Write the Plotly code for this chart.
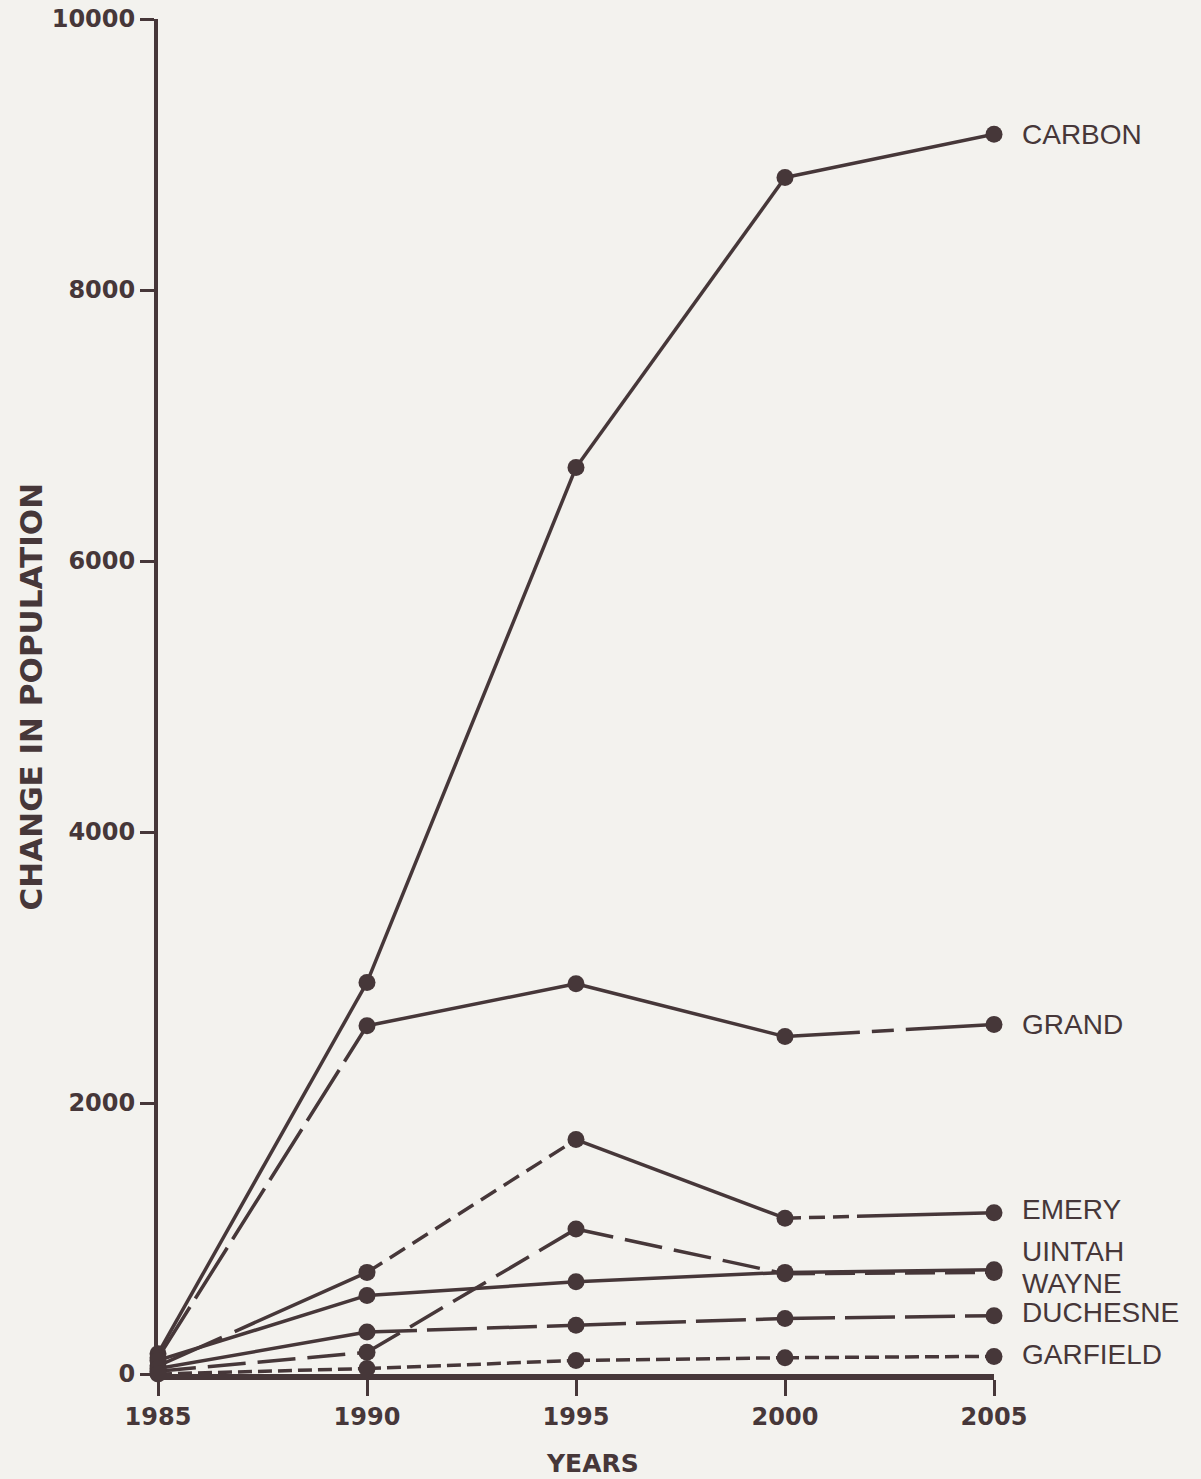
import plotly.graph_objects as go

years = [1985, 1990, 1995, 2000, 2005]

carbon   = [150, 2890, 6690, 8830, 9150]
grand    = [120, 2570, 2880, 2490, 2580]
emery    = [60,  750, 1730, 1150, 1190]
uintah   = [100, 580,  680,  750,  770]
wayne    = [20,  160, 1070,  740,  750]
duchesne = [40,  310,  360,  410,  430]
garfield = [0,    40,  100,  120,  130]

names = ["CARBON", "GRAND", "EMERY", "UINTAH", "WAYNE", "DUCHESNE", "GARFIELD"]
series = [carbon, grand, emery, uintah, wayne, duchesne, garfield]

y_ticks = [0, 2000, 4000, 6000, 8000, 10000]

INK = "#463739"
BG = "#f3f2ee"

# dash style for each segment (1985-90, 90-95, 95-2000, 2000-05)
seg_styles = {
    "CARBON":   ["solid", "solid", "solid", "solid"],
    "GRAND":    ["60px,10px", "solid", "solid", "75px,12px,22px,12px,300px"],
    "EMERY":    ["70px,14px,400px", "18px,9px", "solid", "16px,8px,16px,8px,16px,8px,300px"],
    "UINTAH":   ["solid", "solid", "solid", "solid"],
    "WAYNE":    ["38px,12px", "38px,12px", "38px,12px", "30px,10px"],
    "DUCHESNE": ["solid", "50px,10px", "50px,10px", "50px,10px"],
    "GARFIELD": ["14px,6px", "14px,6px", "14px,6px", "14px,6px"],
}
label_shift = {"CARBON": 0, "GRAND": 0, "EMERY": 3, "UINTAH": 18,
               "WAYNE": -11, "DUCHESNE": 3, "GARFIELD": 2}

fig = go.Figure()
for name, vals in zip(names, series):
    for i in range(len(years) - 1):
        fig.add_trace(go.Scatter(
            x=years[i:i + 2], y=vals[i:i + 2], mode="lines",
            line=dict(color=INK, width=3.5, dash=seg_styles[name][i]),
            showlegend=False, hoverinfo="skip", cliponaxis=False))
    fig.add_trace(go.Scatter(
        x=years, y=vals, mode="markers", name=name,
        marker=dict(color=INK, size=17), showlegend=False, cliponaxis=False))
    fig.add_annotation(x=years[-1], y=vals[-1], text=name, showarrow=False,
                       xanchor="left", yanchor="middle", xshift=26,
                       yshift=label_shift[name],
                       font=dict(family="Liberation Sans, Arial", size=28, color=INK))

fig.add_annotation(xref="paper", yref="paper", x=0, y=0.5, xshift=-128,
                   xanchor="center", yanchor="middle",
                   text="CHANGE IN POPULATION", textangle=-90, showarrow=False,
                   font=dict(family="DejaVu Sans", size=31, color=INK, weight="bold"))
fig.add_annotation(xref="paper", yref="paper", x=0.5, y=0, yshift=-89, xshift=16,
                   xanchor="center", yanchor="middle",
                   text="YEARS", showarrow=False,
                   font=dict(family="DejaVu Sans", size=25, color=INK, weight="bold"))

fig.update_layout(
    width=1201, height=1479,
    margin=dict(l=158, r=207, t=19, b=105, autoexpand=False),
    paper_bgcolor=BG, plot_bgcolor=BG,
    xaxis=dict(range=[1985, 2005], tickvals=years, ticktext=[str(y) for y in years],
               automargin=False, ticklabeloverflow="allow",
               showgrid=False, zeroline=False, showline=True, linecolor=INK, linewidth=6,
               ticks="outside", ticklen=16, tickwidth=3, tickcolor=INK,
               tickfont=dict(family="DejaVu Sans", size=24, color=INK, weight="bold")),
    yaxis=dict(range=[0, 10000], tickvals=y_ticks, ticktext=[str(v) for v in y_ticks],
               automargin=False, ticklabeloverflow="allow",
               showgrid=False, zeroline=False, showline=True, linecolor=INK, linewidth=4,
               ticks="outside", ticklen=14, tickwidth=3, tickcolor=INK,
               tickfont=dict(family="DejaVu Sans", size=24, color=INK, weight="bold")),
)

fig.write_html(
    "out.html",
    config={"displayModeBar": False},
    post_script="document.body.style.margin='0';document.body.style.background='#f3f2ee';"
                "document.body.style.overflow='hidden';",
)
